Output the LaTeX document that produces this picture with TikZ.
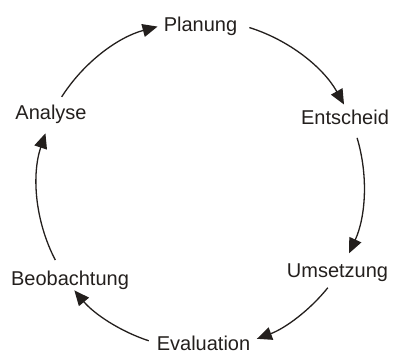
\documentclass[tikz,border=0pt]{standalone}
\usepackage{fontspec}
\setmainfont{Liberation Sans}
\usetikzlibrary{arrows.meta}
\definecolor{ink}{HTML}{231F1D}
\begin{document}
\begin{tikzpicture}[x=1pt,y=1pt,
  lbl/.style={anchor=base,inner sep=0pt,font=\fontsize{20}{24}\selectfont,text=ink},
  cyc/.style={draw=ink,line width=1.3pt,-{Triangle[length=15pt,width=13pt]}}]
\useasboundingbox (0,0) rectangle (393,353);
\coordinate (c) at (200,168);
\node[lbl] (plan) at (200.5,321) {Planung};
\node[lbl] (ent) at (345,228) {Entscheid};
\node[lbl] (ums) at (337.5,75) {Umsetzung};
\node[lbl] (eval) at (203.5,3) {Evaluation};
\node[lbl] (beo) at (70,67) {Beobachtung};
\node[lbl] (ana) at (51,233) {Analyse};
\draw[cyc] ([shift={(147.5:164)}]c) arc[start angle=147.5,end angle=105,radius=164];
\draw[cyc] ([shift={(72.6:165)}]c) arc[start angle=72.6,end angle=29.2,radius=165];
\draw[cyc] ([shift={(16.7:164)}]c) arc[start angle=16.7,end angle=-24.6,radius=164];
\draw[cyc] ([shift={(-38.8:164)}]c) arc[start angle=-38.8,end angle=-69.7,radius=164];
\draw[cyc] ([shift={(-108.2:164)}]c) arc[start angle=-108.2,end angle=-140,radius=164];
\draw[cyc] ([shift={(-152.6:163)}]c) arc[start angle=-152.6,end angle=-198.5,radius=163];
\end{tikzpicture}
\end{document}
